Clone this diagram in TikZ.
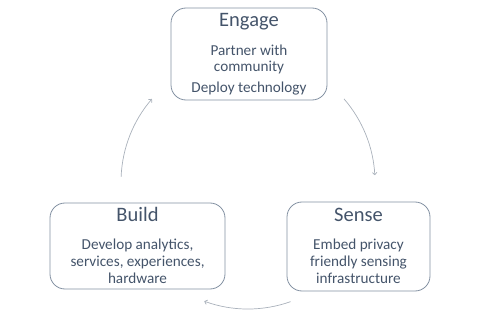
\documentclass[tikz,border=0pt]{standalone}
\usepackage{fontspec}
\setmainfont{Carlito}
\usetikzlibrary{calc,arrows.meta}
\definecolor{slate}{HTML}{44546A}
\definecolor{rim}{HTML}{8391A2}
\definecolor{loop}{HTML}{A9B1BB}
\begin{document}
\begin{tikzpicture}[
	x=1pt,y=-1pt,
	phase/.style={draw=rim,line width=0.8pt,rounded corners=15pt,inner sep=0pt},
	title/.style={text=slate,font=\fontsize{20.5}{24}\selectfont,anchor=base,inner sep=0pt},
	body/.style={text=slate,font=\fontsize{15.2}{16.6}\selectfont,align=center,anchor=base,inner sep=0pt},
	cycle/.style={draw=loop,line width=0.7pt,-{To[length=3pt,width=5pt]}}
	]
	\useasboundingbox (0,0) rectangle (480,329);
	\node[phase,minimum width=156pt,minimum height=92pt]  (engage) at (249,54)  {};
	\node[phase,minimum width=175pt,minimum height=86pt]  (build) at (137.5,246)  {};
	\node[phase,minimum width=143pt,minimum height=89pt]  (sense) at (358.5,246.5)  {};
	\node[title]  (engage title) at (249,27)  {Engage};
	\node[title]  (build title) at (137.5,222)  {Build};
	\node[title]  (sense title) at (358.5,222)  {Sense};
	\node[body]  (engage text) at (249,93)  {Partner with\\community\\[4.4pt]Deploy technology};
	\node[body]  (build text) at (137.5,283)  {Develop analytics,\\services, experiences,\\hardware};
	\node[body]  (sense text) at (358.5,283)  {Embed privacy\\friendly sensing\\infrastructure};
	% ring of arrows
	\coordinate (hub) at (248,182);
	\coordinate (build out) at ($(hub)+(-177.7:127)$);
	\coordinate (engage out) at ($(hub)+(-40.9:127)$);
	\coordinate (sense out) at ($(hub)+(70.4:127)$);
	\path[cycle]  (build out) arc[start angle=-177.7,end angle=-139.2,radius=127];
	\path[cycle]  (engage out) arc[start angle=-40.9,end angle=-3.1,radius=127];
	\path[cycle]  (sense out) arc[start angle=70.4,end angle=110.1,radius=127];
\end{tikzpicture}
\end{document}
